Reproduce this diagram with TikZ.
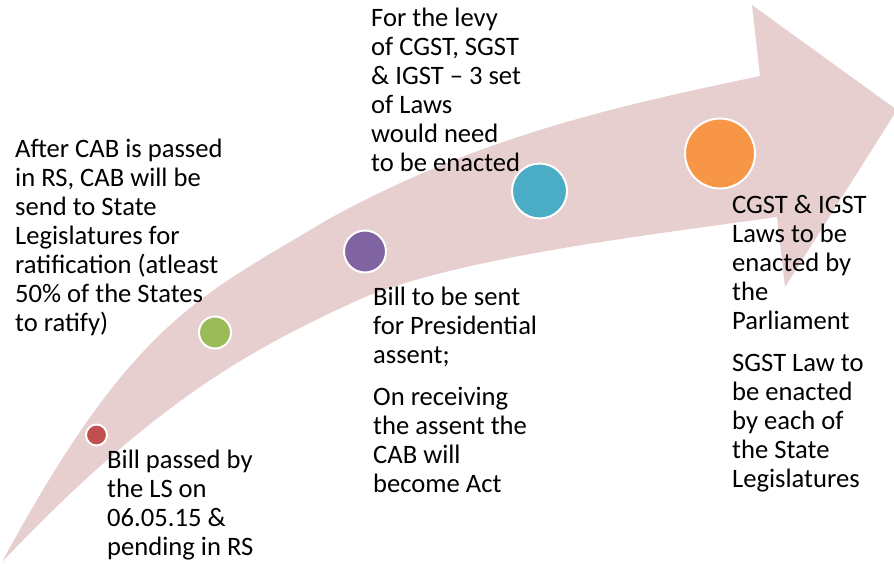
\documentclass[tikz,border=0pt]{standalone}
\usepackage{fontspec}
\setmainfont{Carlito}
\usepackage{tikz}
\usetikzlibrary{positioning}
\definecolor{gstpink}{RGB}{231,206,207}
\definecolor{gstred}{RGB}{192,80,77}
\definecolor{gstgreen}{RGB}{155,187,89}
\definecolor{gstpurple}{RGB}{128,100,162}
\definecolor{gstblue}{RGB}{75,172,198}
\definecolor{gstorange}{RGB}{247,150,70}
\tikzstyle{dot} = [circle,draw=white,line width=2pt,inner sep=0pt]
\tikzstyle{txt} = [align=left,anchor=base west,inner sep=0pt,font=\fontsize{26.6}{29}\selectfont]

\begin{document}
\begin{tikzpicture}[x=1pt,y=-1pt]
\useasboundingbox (0,0) rectangle (894,564);
% Curved arrow
\fill[gstpink] (2,562) .. controls (132,322) and (197,298) .. (327,220)
    .. controls (477,137.5) and (610,107.5) .. (760,76)
    -- (752,5) -- (897,110) -- (785,287) -- (777,217)
    .. controls (637,236.6) and (465,257) .. (365,297)
    .. controls (245,351) and (152,404.5) .. (2,562) -- cycle;

% Milestones
\node[dot,fill=gstred,minimum size=21pt] (ls) at (96.5,435) {};
\node[dot,fill=gstgreen,minimum size=32pt] (rs) at (215,332.5) {};
\node[dot,fill=gstpurple,minimum size=42pt] (assent) at (365,251.5) {};
\node[dot,fill=gstblue,minimum size=55pt] (levy) at (539.5,191) {};
\node[dot,fill=gstorange,minimum size=70pt] (laws) at (720,153.5) {};

% Texts (anchored at the last line)
\node[txt] (lstxt) at (107,555) {Bill passed by\\the LS on\\06.05.15 \&\\pending in RS};
\node[txt] (rstxt) at (15,331) {After CAB is passed\\in RS, CAB will be\\send to State\\Legislatures for\\ratification (atleast\\50\% of the States\\to ratify)};
\node[txt] (levytxt) at (371,172) {For the levy\\of CGST, SGST\\\& IGST -- 3 set\\of Laws\\would need\\to be enacted};
\node[txt] (assenttxt) at (373,492) {Bill to be sent\\for Presidential\\assent;\\[13pt]On receiving\\the assent the\\CAB will\\become Act};
\node[txt] (lawstxt) at (732,487) {CGST \& IGST\\Laws to be\\enacted by\\the\\Parliament\\[13pt]SGST Law to\\be enacted\\by each of\\the State\\Legislatures};
\end{tikzpicture}
\end{document}
